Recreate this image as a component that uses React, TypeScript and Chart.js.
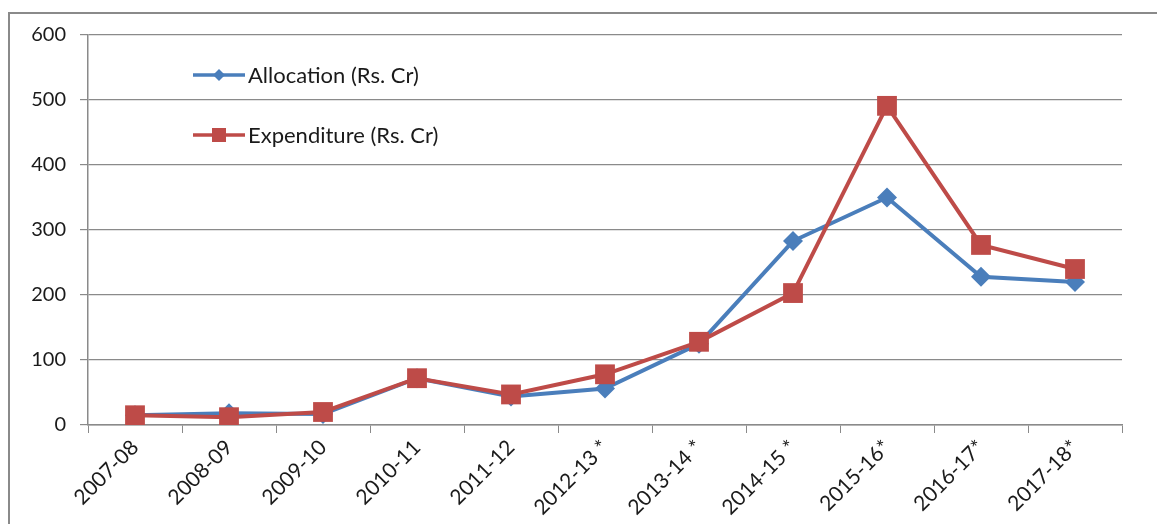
import React, { useEffect, useRef } from "react";
import { Chart, registerables } from "chart.js";

Chart.register(...registerables);

const categories = ["2007-08", "2008-09", "2009-10", "2010-11", "2011-12", "2012-13 *", "2013-14 *", "2014-15 *", "2015-16*", "2016-17*", "2017-18*"];
const allocation = [15, 18, 17, 72, 44, 56, 125, 283, 350, 228, 220];
const expenditure = [15, 12, 20, 72, 47, 78, 128, 203, 491, 277, 240];
const yTicks = [0, 100, 200, 300, 400, 500, 600];

const BLUE = "#4a7ebb";
const RED = "#be4b48";
const FONT = "Lato, 'Open Sans', sans-serif";

const framePlugin = {
  id: "frame",
  beforeDraw(chart: any) {
    const ctx = chart.ctx;
    ctx.save();
    ctx.fillStyle = "#ffffff";
    ctx.fillRect(0, 0, chart.width, chart.height);
    ctx.strokeStyle = "#8a8a8a";
    ctx.lineWidth = 2;
    ctx.beginPath();
    ctx.moveTo(9, chart.height + 5);
    ctx.lineTo(9, 13);
    ctx.lineTo(chart.width + 5, 13);
    ctx.stroke();
    ctx.restore();
  },
};

const legendPlugin = {
  id: "customLegend",
  afterDatasetsDraw(chart: any) {
    const ctx = chart.ctx;
    const items = [
      { label: "Allocation (Rs. Cr)", color: BLUE, style: "diamond", y: 75 },
      { label: "Expenditure (Rs. Cr)", color: RED, style: "square", y: 135 },
    ];
    ctx.save();
    items.forEach((it) => {
      ctx.strokeStyle = it.color;
      ctx.lineWidth = 3.5;
      ctx.beginPath();
      ctx.moveTo(193, it.y);
      ctx.lineTo(245, it.y);
      ctx.stroke();
      ctx.fillStyle = it.color;
      const cx = 219;
      if (it.style === "diamond") {
        ctx.beginPath();
        ctx.moveTo(cx, it.y - 6);
        ctx.lineTo(cx + 6, it.y);
        ctx.lineTo(cx, it.y + 6);
        ctx.lineTo(cx - 6, it.y);
        ctx.closePath();
        ctx.fill();
      } else {
        ctx.fillRect(cx - 7, it.y - 7, 14, 14);
      }
      ctx.fillStyle = "#1a1a1a";
      ctx.font = `22px ${FONT}`;
      ctx.textBaseline = "middle";
      ctx.textAlign = "left";
      ctx.fillText(it.label, 248, it.y + 1);
    });
    ctx.restore();
  },
};

export default function App() {
  const ref = useRef<HTMLCanvasElement | null>(null);
  useEffect(() => {
    if (!ref.current) return;
    const chart = new Chart(ref.current, {
      type: "line",
      data: {
        labels: categories,
        datasets: [
          {
            label: "Allocation (Rs. Cr)",
            data: allocation,
            borderColor: BLUE,
            backgroundColor: BLUE,
            borderWidth: 4,
            pointStyle: "rectRot",
            pointRadius: 10,
            pointBorderWidth: 0,
            tension: 0,
            order: 1,
          },
          {
            label: "Expenditure (Rs. Cr)",
            data: expenditure,
            borderColor: RED,
            backgroundColor: RED,
            borderWidth: 4,
            pointStyle: "rect",
            pointRadius: 14,
            pointBorderWidth: 0,
            tension: 0,
            order: 0,
          },
        ],
      },
      options: {
        animation: false,
        responsive: false,
        maintainAspectRatio: false,
        layout: { padding: { left: 0, top: 35, right: 35, bottom: 0 } },
        plugins: { legend: { display: false }, tooltip: { enabled: false } },
        scales: {
          x: {
            type: "category",
            offset: true,
            grid: {
              offset: true,
              drawOnChartArea: false,
              drawTicks: true,
              tickLength: 8,
              color: "#8a8a8a",
            },
            border: { color: "#8a8a8a", width: 1.5 },
            ticks: {
              maxRotation: 45,
              minRotation: 45,
              autoSkip: false,
              color: "#1a1a1a",
              font: { family: FONT, size: 21 },
              padding: 2,
            },
            afterFit(scale: any) {
              scale.height = 99;
            },
          },
          y: {
            min: 0,
            max: 600,
            afterBuildTicks(scale: any) {
              scale.ticks = yTicks.map((v) => ({ value: v }));
            },
            grid: {
              color: "#8a8a8a",
              lineWidth: 1.2,
              drawTicks: true,
              tickLength: 8,
            },
            border: { color: "#8a8a8a", width: 1.5 },
            ticks: {
              color: "#1a1a1a",
              font: { family: FONT, size: 20 },
              padding: 14,
            },
            afterFit(scale: any) {
              scale.width = 88;
            },
          },
        },
      },
      plugins: [framePlugin, legendPlugin],
    });
    return () => chart.destroy();
  }, []);
  return (
    <div style={{ position: "absolute", left: 0, top: 0, width: 1157, height: 524, background: "#fff" }}>
      <canvas ref={ref} width={1157} height={524} style={{ display: "block", width: 1157, height: 524 }} />
    </div>
  );
}
